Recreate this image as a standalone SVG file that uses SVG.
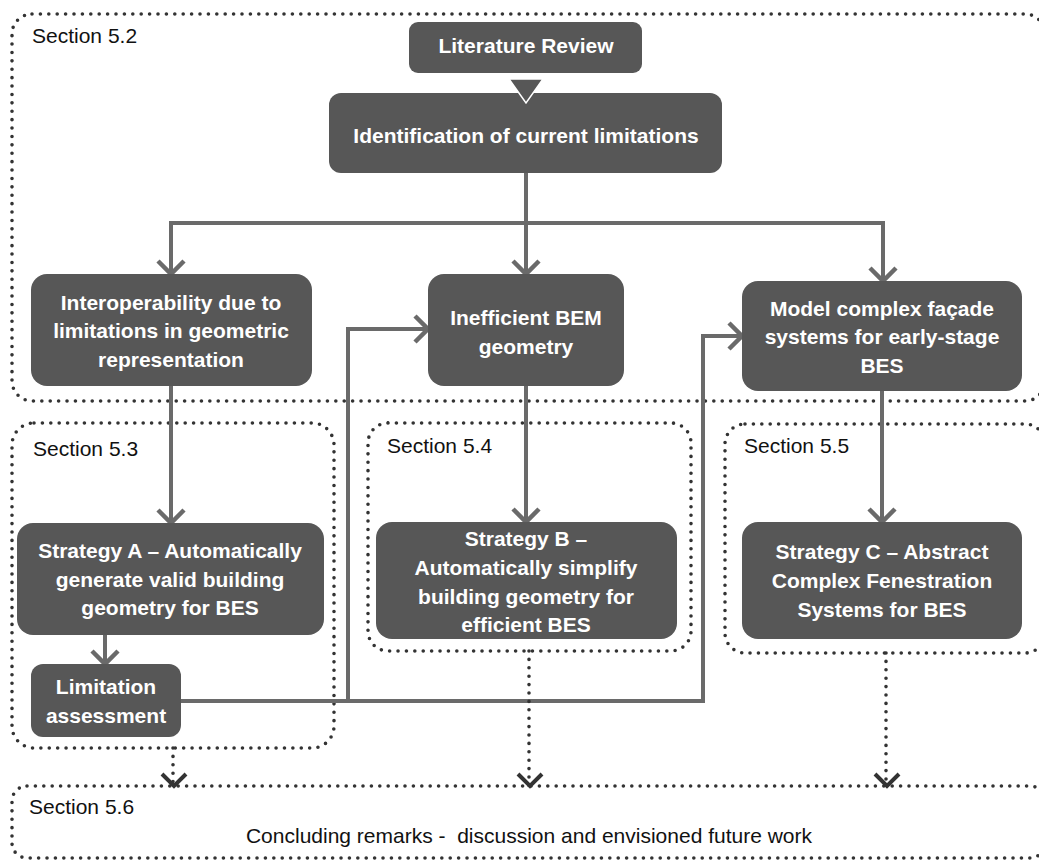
<svg xmlns="http://www.w3.org/2000/svg" width="1039" height="860" viewBox="0 0 1039 860">
<style>
.sec{fill:none;stroke:#333333;stroke-width:3.6;stroke-dasharray:0 8.4;stroke-linecap:round}
.box{fill:#575757}
.bt{font-family:"Liberation Sans",Arial,sans-serif;font-weight:bold;font-size:21px;fill:#ffffff;text-anchor:middle}
.st{font-family:"Liberation Sans",Arial,sans-serif;font-size:21px;fill:#111111}
.ln{fill:none;stroke:#6a6a6a;stroke-width:4}
.dl{fill:none;stroke:#333333;stroke-width:3.6;stroke-dasharray:0 8.4;stroke-linecap:round}
</style>
<defs>
<marker id="arr" markerUnits="userSpaceOnUse" orient="auto" refX="0" refY="0" markerWidth="40" markerHeight="40" viewBox="-20 -20 40 40" overflow="visible">
<path d="M-13 -13 L0 0 L-13 13" fill="none" stroke="#6a6a6a" stroke-width="4.5"/>
</marker>
<marker id="darr" markerUnits="userSpaceOnUse" orient="auto" refX="0" refY="0" markerWidth="40" markerHeight="40" viewBox="-20 -20 40 40" overflow="visible">
<path d="M-12 -13 L0 -1 L-12 11" fill="none" stroke="#333333" stroke-width="4"/>
</marker>
</defs>
<rect width="1039" height="860" fill="#ffffff"/>
<g id="sections">
<g id="sec52"><rect class="sec" x="12" y="14" width="1033" height="387" rx="20"/><text class="st" x="32" y="43">Section 5.2</text></g>
<g id="sec53"><rect class="sec" x="12" y="423" width="322" height="325" rx="22"/><text class="st" x="33" y="456">Section 5.3</text></g>
<g id="sec54"><rect class="sec" x="368" y="423" width="323" height="228" rx="20"/><text class="st" x="387" y="453">Section 5.4</text></g>
<g id="sec55"><rect class="sec" x="725" y="424" width="320" height="229" rx="20"/><text class="st" x="744" y="453">Section 5.5</text></g>
<g id="sec56"><rect class="sec" x="12" y="786" width="1033" height="72" rx="15"/><text class="st" x="29" y="814">Section 5.6</text><text class="st" x="529" y="843" text-anchor="middle" xml:space="preserve">Concluding remarks -  discussion and envisioned future work</text></g>
</g>
<g id="connectors">
<path class="ln" d="M526 173 V274" marker-end="url(#arr)"/>
<path class="ln" d="M526 223 H171 V274" marker-end="url(#arr)"/>
<path class="ln" d="M526 223 H883 V281" marker-end="url(#arr)"/>
<path class="ln" d="M171 386 V523" marker-end="url(#arr)"/>
<path class="ln" d="M105 635 V664" marker-end="url(#arr)"/>
<path class="ln" d="M526 386 V522" marker-end="url(#arr)"/>
<path class="ln" d="M882 391 V522" marker-end="url(#arr)"/>
<path class="ln" d="M181 701 H348 V329 H428" marker-end="url(#arr)"/>
<path class="ln" d="M348 701 H703 V336 H742" marker-end="url(#arr)"/>
<path class="dl" d="M173 748 V786" marker-end="url(#darr)"/>
<path class="dl" d="M529 651 V786" marker-end="url(#darr)"/>
<path class="dl" d="M886 653 V786" marker-end="url(#darr)"/>
</g>
<g id="literature">
<rect class="box" x="409" y="22" width="233" height="51" rx="9"/>
<text class="bt" x="526" y="53">Literature Review</text>
</g>
<g id="identification">
<rect class="box" x="329" y="93" width="393" height="80" rx="12"/>
<text class="bt" x="526" y="143">Identification of current limitations</text>
</g>
<g id="merge">
<polygon points="509,79 543,79 526,103" fill="#575757" stroke="#ffffff" stroke-width="1.5"/>
</g>
<g id="interop">
<rect class="box" x="31" y="274" width="281" height="112" rx="16"/>
<text class="bt" x="171" y="310">Interoperability due to</text>
<text class="bt" x="171" y="338">limitations in geometric</text>
<text class="bt" x="171" y="367">representation</text>
</g>
<g id="inefficient">
<rect class="box" x="428" y="274" width="196" height="112" rx="16"/>
<text class="bt" x="526" y="325">Inefficient BEM</text>
<text class="bt" x="526" y="354">geometry</text>
</g>
<g id="model">
<rect class="box" x="742" y="281" width="280" height="110" rx="16"/>
<text class="bt" x="882" y="316">Model complex façade</text>
<text class="bt" x="882" y="344">systems for early-stage</text>
<text class="bt" x="882" y="373">BES</text>
</g>
<g id="strategyA">
<rect class="box" x="17" y="523" width="307" height="112" rx="16"/>
<text class="bt" x="170" y="558">Strategy A – Automatically</text>
<text class="bt" x="170" y="587">generate valid building</text>
<text class="bt" x="170" y="615">geometry for BES</text>
</g>
<g id="limitation">
<rect class="box" x="31" y="664" width="150" height="73" rx="12"/>
<text class="bt" x="106" y="694">Limitation</text>
<text class="bt" x="106" y="723">assessment</text>
</g>
<g id="strategyB">
<rect class="box" x="376" y="522" width="301" height="117" rx="16"/>
<text class="bt" x="526" y="546">Strategy B –</text>
<text class="bt" x="526" y="575">Automatically simplify</text>
<text class="bt" x="526" y="604">building geometry for</text>
<text class="bt" x="526" y="632">efficient BES</text>
</g>
<g id="strategyC">
<rect class="box" x="742" y="522" width="280" height="117" rx="16"/>
<text class="bt" x="882" y="559">Strategy C – Abstract</text>
<text class="bt" x="882" y="588">Complex Fenestration</text>
<text class="bt" x="882" y="617">Systems for BES</text>
</g>
</svg>
